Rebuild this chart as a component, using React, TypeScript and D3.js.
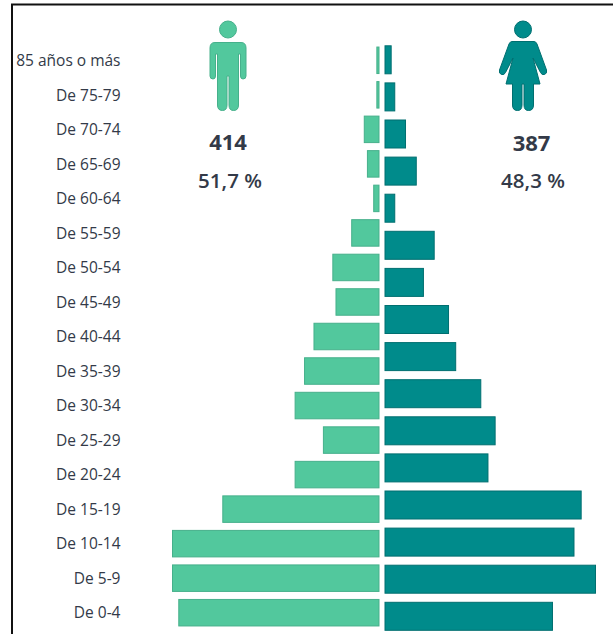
import * as d3 from 'd3';

const ageLabels = [
  '85 años o más', 'De 75-79', 'De 70-74', 'De 65-69', 'De 60-64', 'De 55-59',
  'De 50-54', 'De 45-49', 'De 40-44', 'De 35-39', 'De 30-34', 'De 25-29',
  'De 20-24', 'De 15-19', 'De 10-14', 'De 5-9', 'De 0-4',
];
const menValues = [1, 1, 5, 4, 2, 9, 15, 14, 21, 24, 27, 18, 27, 50, 66, 66, 64];
// the women's side of the picture has one bar fewer and its own spacing
const womenValues = [2, 3, 6, 9, 3, 14, 11, 18, 20, 27, 31, 29, 55, 53, 59, 47];

const MEN = '#52c89d';
const MEN_EDGE = '#46b08b';
const WOMEN = '#008b8b';
const WOMEN_EDGE = '#006f70';
const TEXT = '#333a48';

const y = d3.scalePoint<string>().domain(ageLabels).range([60.3, 612.7]);
const yWomen = d3.scalePoint<number>().domain(d3.range(womenValues.length)).range([59.8, 616.3]);
const xMen = d3.scaleLinear().domain([0, 66]).range([379.5, 172]);
const xWomen = d3.scaleLinear().domain([0, 59]).range([384.5, 596]);

export default function App() {
  return (
    <svg
      width={613}
      height={634}
      style={{ position: 'absolute', left: 0, top: 0, background: '#fff', fontFamily: '"Open Sans", sans-serif' }}
    >
      {/* frame */}
      <path d="M12 634V4.500H613" fill="none" stroke="#111" strokeWidth={2} />

      {ageLabels.map((d, i) => (
        <g key={d}>
          {/* inset by half the stroke so the outer edge sits on the scale value */}
          <rect
            x={xMen(menValues[i]) + 0.5}
            y={y(d)! - 13.25}
            width={xMen(0) - xMen(menValues[i]) - 1}
            height={26.5}
            fill={MEN}
            stroke={MEN_EDGE}
            strokeWidth={1}
          />
          <text x={120.5} y={y(d)! + 5.7} textAnchor="end" fontSize={15.5} fontWeight={500} fill={TEXT}>{d}</text>
        </g>
      ))}

      {womenValues.map((v, i) => (
        <rect
          key={i}
          x={xWomen(0) + 0.5}
          y={yWomen(i)! - 14}
          width={xWomen(v) - xWomen(0) - 1}
          height={28}
          fill={WOMEN}
          stroke={WOMEN_EDGE}
          strokeWidth={1}
        />
      ))}

      {/* man icon */}
      <g fill={MEN} stroke={MEN_EDGE} strokeWidth={1}>
        <circle cx={228} cy={29.500} r={8.500} />
        <path d="M215 42.500H241Q246 42.500 246 48V76Q246 79 243 79Q240.500 79 240.500 76V54H238.500V105Q238.500 110.500 233.500 110.500Q229 110.500 229 105V76H227V105Q227 110.500 222.500 110.500Q217.500 110.500 217.500 105V54H215.500V76Q215.500 79 213 79Q210 79 210 76V48Q210 42.500 215 42.500Z" />
      </g>

      {/* woman icon */}
      <g fill={WOMEN} stroke={WOMEN_EDGE} strokeWidth={1}>
        <circle cx={523} cy={29.500} r={8.500} />
        <path d="M512 41.500H534Q536 41.500 537 44L546.500 70Q547.500 73.500 544.500 74.500Q542 75.500 540.500 72.500L533 58L540 84H533.500V105Q533.500 110.500 528.500 110.500Q524 110.500 524 105V84H522V105Q522 110.500 517.500 110.500Q512.500 110.500 512.500 105V84H506L513 58L505.500 72.500Q504 75.500 501.500 74.500Q498.500 73.500 499.500 70L509 44Q510 41.500 512 41.500Z" />
      </g>

      <text x={228} y={150} textAnchor="middle" fontSize={22} fontWeight={700} fill={TEXT}>414</text>
      <text x={230} y={188} textAnchor="middle" fontSize={20.5} fontWeight={600} fill={TEXT}>51,7 %</text>
      <text x={531.500} y={151} textAnchor="middle" fontSize={22} fontWeight={700} fill={TEXT}>387</text>
      <text x={533} y={188} textAnchor="middle" fontSize={20.5} fontWeight={600} fill={TEXT}>48,3 %</text>
    </svg>
  );
}
